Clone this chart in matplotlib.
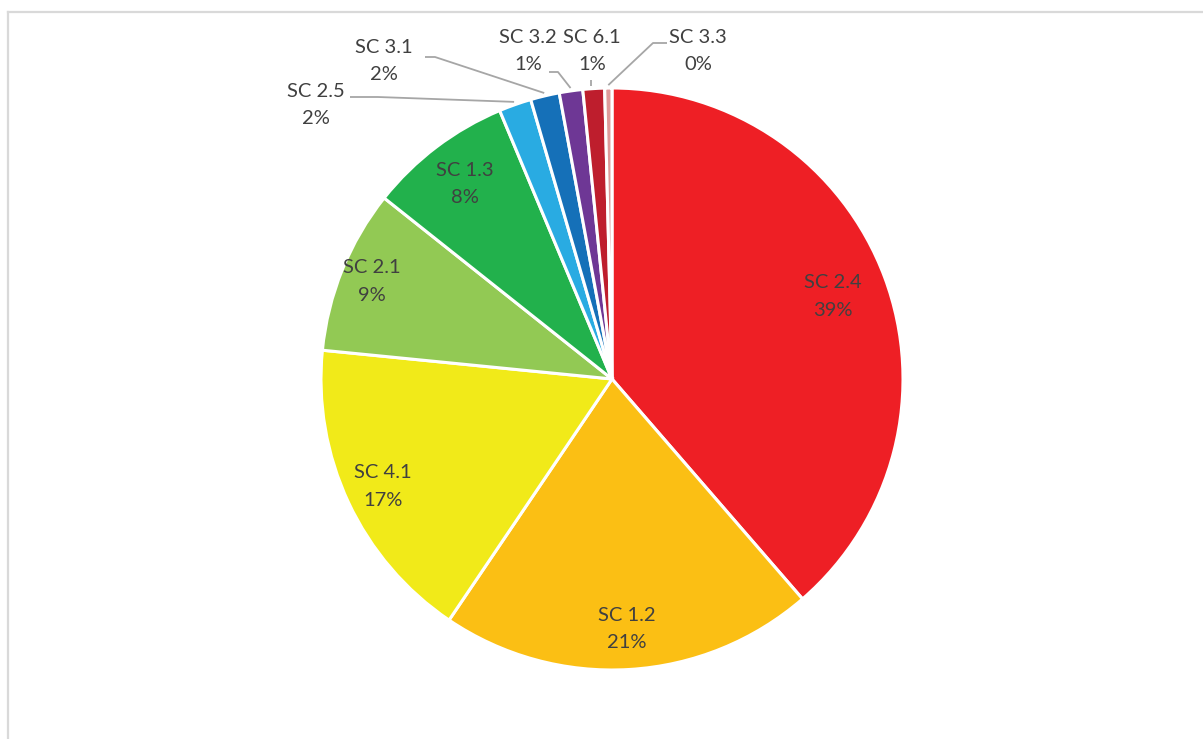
import numpy as np
import matplotlib
matplotlib.use("Agg")
import matplotlib.pyplot as plt
from matplotlib.lines import Line2D

# ---- data ----
categories = ["SC 2.4", "SC 1.2", "SC 4.1", "SC 2.1", "SC 1.3",
              "SC 2.5", "SC 3.1", "SC 3.2", "SC 6.1", "SC 3.3"]
values = [38.6, 20.8, 17.1, 9.1, 8.0, 1.8, 1.6, 1.3, 1.2, 0.4]
colors = ["#EE1F25", "#FBBF14", "#F1EA19", "#92C954", "#22B14C",
          "#29ABE2", "#1570B8", "#6E3795", "#BE1E2D", "#DE9A9A"]

W, H, DPI = 1203, 739, 100
CX, CY, R = 612, 379, 291  # pie centre / radius in pixels (layout)

plt.rcParams['font.family'] = ['Lato', 'DejaVu Sans']
fig = plt.figure(figsize=(W / DPI, H / DPI), dpi=DPI)
ax = fig.add_axes([0, 0, 1, 1])

wedges, _ = ax.pie(values, colors=colors, startangle=90, counterclock=False,
                   radius=1.0, center=(0, 0),
                   wedgeprops=dict(edgecolor="white", linewidth=2.2))
ax.set_xlim(-CX / R, (W - CX) / R)
ax.set_ylim(-(H - CY) / R, CY / R)
ax.set_aspect("auto")
ax.axis("off")

total = sum(values)
pct = [v / total * 100 for v in values]
labels = [f"{c}\n{p:.0f}%" for c, p in zip(categories, pct)]

# mid angles (radians, standard orientation)
mids = []
cum = 0.0
for v in values:
    a0 = 90 - cum / total * 360
    a1 = 90 - (cum + v) / total * 360
    mids.append(np.deg2rad((a0 + a1) / 2))
    cum += v

def px(x, y):
    return ((x - CX) / R, (CY - y) / R)

text_kw = dict(ha="center", va="center", fontsize=14.5, color="#404040",
               linespacing=1.75)

# inside labels: radius as fraction of R
inside_r = [0.81, 0.86, 0.87, 0.89, 0.84]
for i, rr in enumerate(inside_r):
    ax.text(rr * np.cos(mids[i]), rr * np.sin(mids[i]), labels[i], **text_kw)

# outside labels: text centre and leader polyline start points (pixels)
outside = {
    5: ((316, 105), [(350, 97), (378, 97)]),
    6: ((384, 61), [(425, 57), (435, 57)]),
    7: ((528, 51), [(549, 72), (558, 72)]),
    8: ((592, 51), [(591, 80)]),
    9: ((698, 51), [(667, 43), (653, 43)]),
}
for i, (tpos, pts) in outside.items():
    tx, ty = px(*tpos)
    ax.text(tx, ty, labels[i], **text_kw)
    xs = [px(*p)[0] for p in pts]
    ys = [px(*p)[1] for p in pts]
    ex, ey = 1.01 * np.cos(mids[i]), 1.01 * np.sin(mids[i])
    if i == 8:
        xs.append(xs[0]); ys.append(ey)
    else:
        xs.append(ex); ys.append(ey)
    ax.plot(xs, ys, color="#A6A6A6", linewidth=1.3, solid_capstyle="butt")

# chart area border (top & left visible)
bc = "#D9D9D9"
fig.add_artist(Line2D([8 / W, 8 / W], [0, 1 - 12 / H], color=bc, linewidth=1.6,
                      transform=fig.transFigure))
fig.add_artist(Line2D([8 / W, 1], [1 - 12 / H, 1 - 12 / H], color=bc, linewidth=1.6,
                      transform=fig.transFigure))

fig.savefig("out.png", dpi=DPI)
